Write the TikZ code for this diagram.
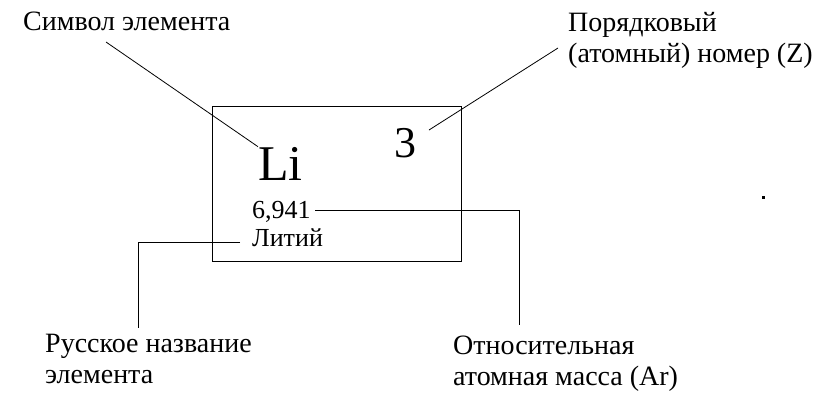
\documentclass[tikz,border=0pt]{standalone}
\usepackage{fontspec}
\setmainfont{Liberation Serif}
\begin{document}
\begin{tikzpicture}[x=1pt,y=-1pt,
  lbl/.style={font=\fontsize{28}{31}\selectfont, inner sep=0pt, align=left, anchor=base west},
  inbox/.style={inner sep=0pt, anchor=base west},
  conn/.style={line width=1pt, black},
  diag/.style={line width=0.8pt, black}]
\useasboundingbox (0,0) rectangle (828,392);
% element box
\node[draw, line width=1.4pt, minimum width=249pt, minimum height=155pt, inner sep=0pt, anchor=north west] (box) at (212,106) {};
\node[inbox, font=\fontsize{50}{50}\selectfont] (sym) at (258,180) {Li};
\node[inbox, font=\fontsize{44}{44}\selectfont] (num) at (394,157) {3};
\node[inbox, font=\fontsize{26}{26}\selectfont] (mass) at (252,218) {6,941};
\node[inbox, font=\fontsize{26}{26}\selectfont] (name) at (252,246) {Литий};
% labels (base anchor = baseline of last line)
\node[lbl] (lsym) at (23,30) {Символ элемента};
\node[lbl] (lnum) at (568,62) {Порядковый\\(атомный) номер (Z)};
\node[lbl] (lname) at (45,383) {Русское название\\элемента};
\node[lbl] (lmass) at (453,385) {Относительная\\атомная масса (Ar)};
% connector points
\coordinate (symstart) at (106,42);
\coordinate (numstart) at (558,48);
\coordinate (numend) at (429,130);
\coordinate (massstart) at (315,210);
\coordinate (massbend) at (519,210);
\coordinate (massend) at (519,325);
\coordinate (namestart) at (240,242);
\coordinate (namebend) at (138,242);
\coordinate (nameend) at (138,328);
% connectors
\draw[diag] (symstart) -- (sym.north west);
\draw[diag] (numstart) -- (numend);
\draw[conn] (massstart) -- (massbend) -- (massend);
\draw[conn] (namestart) -- (namebend) -- (nameend);
% stray dot
\fill (762,196) rectangle (764.5,198.5);
\end{tikzpicture}
\end{document}
